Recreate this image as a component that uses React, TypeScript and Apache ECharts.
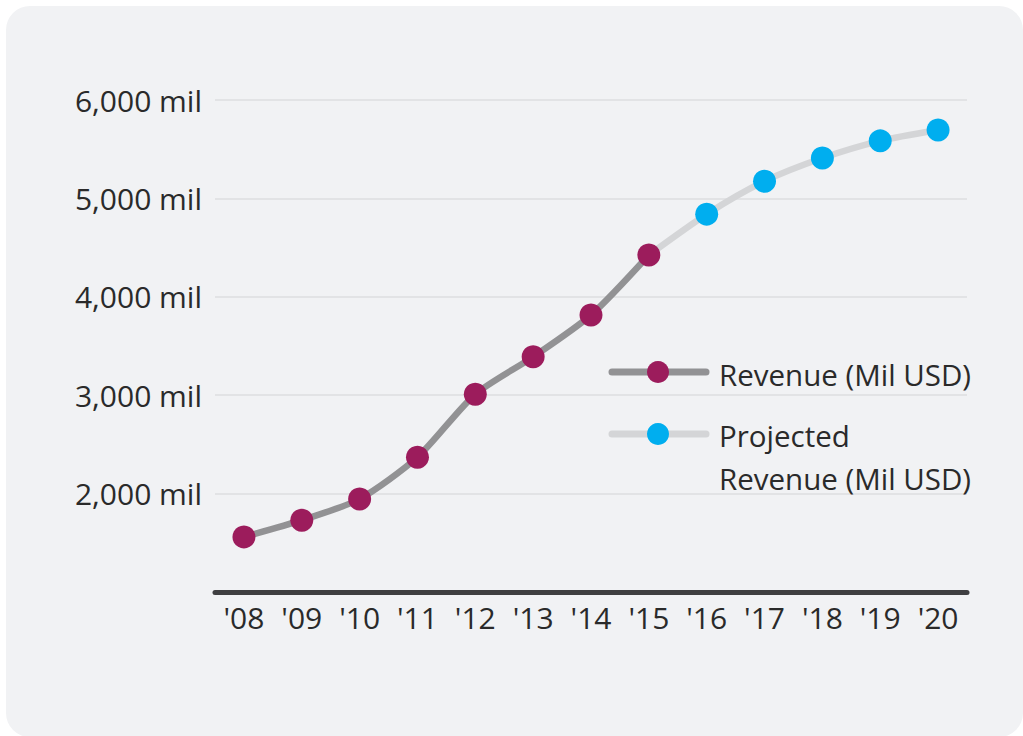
import React, { useEffect, useRef } from "react";
import * as echarts from "echarts";

const years = ["'08", "'09", "'10", "'11", "'12", "'13", "'14", "'15", "'16", "'17", "'18", "'19", "'20"];
const revenue = [1560, 1730, 1945, 2370, 3010, 3390, 3815, 4425, null, null, null, null, null];
const projected = [null, null, null, null, null, null, null, 4425, 4840, 5175, 5410, 5585, 5695];
const yTicks = [1000, 2000, 3000, 4000, 5000, 6000];

const FONT = "'Open Sans', sans-serif";
const WEIGHT = 400;
const TEXT = "#2a2a2a";
const PURPLE = "#9c1c5c";
const BLUE = "#00aeef";
const DARKLINE = "#929294";
const LIGHTLINE = "#d4d5d7";

export default function App() {
  const ref = useRef<HTMLDivElement>(null);
  useEffect(() => {
    if (!ref.current) return;
    const chart = echarts.init(ref.current, null, { renderer: "svg" });
    const projData = projected.map((v, i) =>
      i === 7 ? { value: v, symbol: "none" } : v
    );
    chart.setOption({
      animation: false,
      backgroundColor: "#ffffff",
      textStyle: { fontFamily: FONT },
      graphic: [
        {
          type: "rect",
          z: -10,
          silent: true,
          shape: { x: 6, y: 6, width: 1017, height: 731, r: 24 },
          style: { fill: "#f1f2f4" },
        },
        {
          type: "line",
          z: 10,
          shape: { x1: 612, y1: 372, x2: 706, y2: 372 },
          style: { stroke: DARKLINE, lineWidth: 7, lineCap: "round" },
        },
        {
          type: "circle",
          z: 11,
          shape: { cx: 658, cy: 372, r: 11 },
          style: { fill: PURPLE },
        },
        {
          type: "text",
          z: 11,
          x: 719,
          y: 374,
          style: {
            text: "Revenue (Mil USD)",
            fontSize: 29.5,
            fontWeight: WEIGHT,
            fontFamily: FONT,
            fill: TEXT,
            verticalAlign: "middle",
          },
        },
        {
          type: "line",
          z: 10,
          shape: { x1: 612, y1: 434, x2: 706, y2: 434 },
          style: { stroke: LIGHTLINE, lineWidth: 7, lineCap: "round" },
        },
        {
          type: "circle",
          z: 11,
          shape: { cx: 658, cy: 434, r: 11 },
          style: { fill: BLUE },
        },
        {
          type: "text",
          z: 11,
          x: 719,
          y: 414,
          style: {
            text: "Projected\nRevenue (Mil USD)",
            fontSize: 29.5,
            fontWeight: WEIGHT,
            lineHeight: 43,
            fontFamily: FONT,
            fill: TEXT,
            verticalAlign: "top",
          },
        },
      ],
      grid: { left: 215, right: 56, top: 100, bottom: 144 },
      xAxis: {
        type: "category",
        data: years,
        boundaryGap: true,
        axisLine: { lineStyle: { color: "#3f3f41", width: 5 } },
        axisTick: { show: false },
        axisLabel: { color: TEXT, fontSize: 30, fontWeight: WEIGHT, fontFamily: FONT, margin: 10 },
      },
      yAxis: {
        type: "value",
        min: 1000,
        max: 6000,
        interval: 1000,
        axisLine: { show: false },
        axisTick: { show: false },
        splitLine: { lineStyle: { color: "#e2e3e5", width: 2 } },
        axisLabel: {
          color: TEXT,
          fontSize: 30,
          fontWeight: WEIGHT,
          fontFamily: FONT,
          margin: 13,
          formatter: (v: number) =>
            v === yTicks[0] ? "" : v.toLocaleString("en-US") + " mil",
        },
      },
      series: [
        {
          name: "Projected Revenue (Mil USD)",
          type: "line",
          data: projData,
          smooth: 0.25,
          z: 2,
          symbol: "circle",
          symbolSize: 23,
          lineStyle: { color: LIGHTLINE, width: 6.5 },
          itemStyle: { color: BLUE },
        },
        {
          name: "Revenue (Mil USD)",
          type: "line",
          data: revenue,
          smooth: 0.25,
          z: 3,
          symbol: "circle",
          symbolSize: 23,
          lineStyle: { color: DARKLINE, width: 6.5 },
          itemStyle: { color: PURPLE },
        },
      ],
    });
    return () => chart.dispose();
  }, []);
  return (
    <div
      ref={ref}
      style={{ position: "fixed", left: 0, top: 0, width: 1023, height: 736 }}
    />
  );
}
